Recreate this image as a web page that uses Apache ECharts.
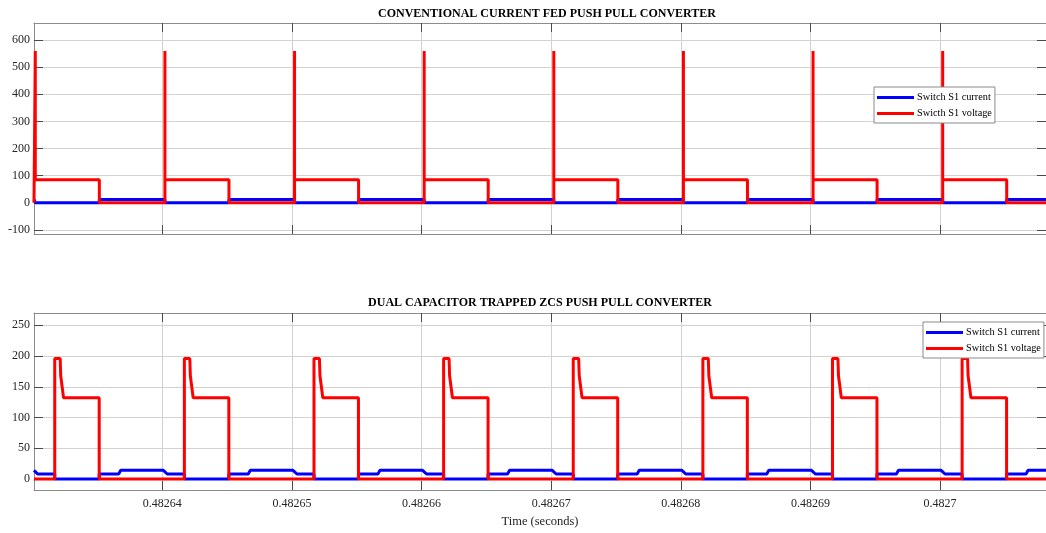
<!DOCTYPE html>
<html><head><meta charset="utf-8">
<script src="https://cdn.jsdelivr.net/npm/echarts@6/dist/echarts.min.js"></script>
<style>html,body{margin:0;padding:0;background:#fff}#c{width:1046px;height:533px}</style>
</head><body><div id="c"></div><script>
// ---- data ----
const timeRange = [0.4826301, 0.48270817];
const timeTicks = [0.48264, 0.48265, 0.48266, 0.48267, 0.48268, 0.48269, 0.4827];
const topYRange = [-115, 663];
const topYTicks = [-100, 0, 100, 200, 300, 400, 500, 600];
const bottomYRange = [-18, 270];
const bottomYTicks = [0, 50, 100, 150, 200, 250];
const topTitle = 'CONVENTIONAL CURRENT FED PUSH PULL CONVERTER';
const bottomTitle = 'DUAL CAPACITOR TRAPPED ZCS PUSH PULL CONVERTER';
const topNames = ['Switch S1 current', 'Swicth S1 voltage'];
const bottomNames = ['Switch S1 current', 'Switch S1 voltage'];
const xName = 'Time (seconds)';

// Conventional converter: switch current [t, A]
const topCurrent = [
  [0.4826301,12],
  [0.4826302,12],[0.4826302,0],[0.48263514,0],[0.48263514,12],
  [0.4826402,12],[0.4826402,0],[0.48264514,0],[0.48264514,12],
  [0.4826502,12],[0.4826502,0],[0.48265514,0],[0.48265514,12],
  [0.4826602,12],[0.4826602,0],[0.48266514,0],[0.48266514,12],
  [0.4826702,12],[0.4826702,0],[0.48267514,0],[0.48267514,12],
  [0.4826802,12],[0.4826802,0],[0.48268514,0],[0.48268514,12],
  [0.4826902,12],[0.4826902,0],[0.48269514,0],[0.48269514,12],
  [0.4827002,12],[0.4827002,0],[0.48270514,0],[0.48270514,12],
  [0.48270817,12]
];
// Conventional converter: switch voltage [t, V]
const topVoltage = [
  [0.4826301,0],
  [0.4826302,0],[0.4826302,560],[0.4826302,85],[0.48263514,85],[0.48263514,0],
  [0.4826402,0],[0.4826402,560],[0.4826402,85],[0.48264514,85],[0.48264514,0],
  [0.4826502,0],[0.4826502,560],[0.4826502,85],[0.48265514,85],[0.48265514,0],
  [0.4826602,0],[0.4826602,560],[0.4826602,85],[0.48266514,85],[0.48266514,0],
  [0.4826702,0],[0.4826702,560],[0.4826702,85],[0.48267514,85],[0.48267514,0],
  [0.4826802,0],[0.4826802,560],[0.4826802,85],[0.48268514,85],[0.48268514,0],
  [0.4826902,0],[0.4826902,560],[0.4826902,85],[0.48269514,85],[0.48269514,0],
  [0.4827002,0],[0.4827002,560],[0.4827002,85],[0.48270514,85],[0.48270514,0],
  [0.48270817,0]
];
// Dual capacitor ZCS converter: switch current [t, A]
const bottomCurrent = [
  [0.4826301,14],[0.48263038,8],[0.4826317,8],[0.4826317,0],[0.48263513,0],[0.48263513,8],[0.48263663,8],[0.48263679,14],
  [0.48264008,14],[0.48264038,8],[0.4826417,8],[0.4826417,0],[0.48264513,0],[0.48264513,8],[0.48264663,8],[0.48264679,14],
  [0.48265008,14],[0.48265038,8],[0.4826517,8],[0.4826517,0],[0.48265513,0],[0.48265513,8],[0.48265663,8],[0.48265679,14],
  [0.48266008,14],[0.48266038,8],[0.4826617,8],[0.4826617,0],[0.48266513,0],[0.48266513,8],[0.48266663,8],[0.48266679,14],
  [0.48267008,14],[0.48267038,8],[0.4826717,8],[0.4826717,0],[0.48267513,0],[0.48267513,8],[0.48267663,8],[0.48267679,14],
  [0.48268008,14],[0.48268038,8],[0.4826817,8],[0.4826817,0],[0.48268513,0],[0.48268513,8],[0.48268663,8],[0.48268679,14],
  [0.48269008,14],[0.48269038,8],[0.4826917,8],[0.4826917,0],[0.48269513,0],[0.48269513,8],[0.48269663,8],[0.48269679,14],
  [0.48270008,14],[0.48270038,8],[0.4827017,8],[0.4827017,0],[0.48270513,0],[0.48270513,8],[0.48270663,8],[0.48270679,14],
  [0.48270817,14]
];
// Dual capacitor ZCS converter: switch voltage [t, V]
const bottomVoltage = [
  [0.4826301,0],
  [0.4826317,0],[0.4826317,196],[0.48263212,196],[0.48263216,168],[0.4826323,168],[0.48263238,132],[0.48263513,132],[0.48263513,0],
  [0.4826417,0],[0.4826417,196],[0.48264212,196],[0.48264216,168],[0.4826423,168],[0.48264238,132],[0.48264513,132],[0.48264513,0],
  [0.4826517,0],[0.4826517,196],[0.48265212,196],[0.48265216,168],[0.4826523,168],[0.48265238,132],[0.48265513,132],[0.48265513,0],
  [0.4826617,0],[0.4826617,196],[0.48266212,196],[0.48266216,168],[0.4826623,168],[0.48266238,132],[0.48266513,132],[0.48266513,0],
  [0.4826717,0],[0.4826717,196],[0.48267212,196],[0.48267216,168],[0.4826723,168],[0.48267238,132],[0.48267513,132],[0.48267513,0],
  [0.4826817,0],[0.4826817,196],[0.48268212,196],[0.48268216,168],[0.4826823,168],[0.48268238,132],[0.48268513,132],[0.48268513,0],
  [0.4826917,0],[0.4826917,196],[0.48269212,196],[0.48269216,168],[0.4826923,168],[0.48269238,132],[0.48269513,132],[0.48269513,0],
  [0.4827017,0],[0.4827017,196],[0.48270212,196],[0.48270216,168],[0.4827023,168],[0.48270238,132],[0.48270513,132],[0.48270513,0],
  [0.48270817,0]
];

// ---- styling ----
const FONT = 'Liberation Serif';
const axisLineStyle = {show: true, onZero: false, lineStyle: {color: '#8c8c8c', width: 1}};
const gridLineStyle = {lineStyle: {color: '#d2d2d2', width: 1}};
const tickStyle = (vals) => ({show: true, inside: true, length: 9, customValues: vals, lineStyle: {color: '#4a4a4a', width: 1}});
const xFmt = v => String(parseFloat(Number(v).toFixed(5)));

function xAxes(gridIndex, showLabels) {
  return [
    {type: 'value', gridIndex, position: 'bottom', min: timeRange[0], max: timeRange[1],
     axisLine: axisLineStyle, axisTick: tickStyle(timeTicks),
     axisLabel: {show: showLabels, customValues: timeTicks, formatter: xFmt, margin: 8,
                 fontFamily: FONT, fontSize: 12, color: '#262626'},
     splitLine: Object.assign({show: true}, gridLineStyle),
     name: showLabels ? xName : '', nameLocation: 'middle', nameGap: 25,
     nameTextStyle: {fontFamily: FONT, fontSize: 12.5, color: '#262626'}},
    {type: 'value', gridIndex, position: 'top', min: timeRange[0], max: timeRange[1],
     axisLine: axisLineStyle, axisTick: tickStyle(timeTicks),
     axisLabel: {show: false}, splitLine: {show: false}}
  ];
}
function yAxes(gridIndex, range, ticks) {
  return [
    {type: 'value', gridIndex, position: 'left', min: range[0], max: range[1],
     axisLine: axisLineStyle, axisTick: tickStyle(ticks),
     axisLabel: {customValues: ticks, margin: 4, fontFamily: FONT, fontSize: 12, color: '#262626'},
     splitLine: Object.assign({show: true}, gridLineStyle)},
    {type: 'value', gridIndex, position: 'right', min: range[0], max: range[1],
     axisLine: axisLineStyle, axisTick: tickStyle(ticks),
     axisLabel: {show: false}, splitLine: {show: false}}
  ];
}
const lineSeries = (name, data, color, xi, yi) => ({
  name, type: 'line', data, xAxisIndex: xi, yAxisIndex: yi,
  showSymbol: false, symbol: 'none', animation: false,
  lineStyle: {color, width: 3}, itemStyle: {color}
});
const legendBase = (left, top, names) => ({
  data: names, left, top, orient: 'vertical', icon: 'rect', itemWidth: 37, itemHeight: 3,
  itemGap: 3, padding: [4, 3, 3, 3], borderColor: '#8a8a8a', borderWidth: 1, borderRadius: 0,
  backgroundColor: '#fff', selectedMode: false,
  textStyle: {fontFamily: FONT, fontSize: 10.3, color: '#000', padding: [0, 0, 0, -2], lineHeight: 13}
});

const chart = echarts.init(document.getElementById('c'), null, {renderer: 'canvas'});
chart.setOption({
  backgroundColor: '#fff',
  animation: false,
  title: [
    {text: topTitle, left: 542, top: 3, textAlign: 'center',
     textStyle: {fontFamily: FONT, fontWeight: 'bold', fontSize: 12, color: '#000'}},
    {text: bottomTitle, left: 535, top: 292, textAlign: 'center',
     textStyle: {fontFamily: FONT, fontWeight: 'bold', fontSize: 12, color: '#000'}}
  ],
  grid: [
    {left: 34, right: -4, top: 23, height: 211},
    {left: 34, right: -4, top: 313, height: 177}
  ],
  xAxis: [...xAxes(0, false), ...xAxes(1, true)],
  yAxis: [...yAxes(0, topYRange, topYTicks), ...yAxes(1, bottomYRange, bottomYTicks)],
  legend: [legendBase(874, 87, topNames), legendBase(923, 322, bottomNames)],
  series: [
    lineSeries(topNames[0], topCurrent, '#0000ff', 0, 0),
    lineSeries(topNames[1], topVoltage, '#ff0000', 0, 0),
    lineSeries(bottomNames[0], bottomCurrent, '#0000ff', 2, 2),
    lineSeries(bottomNames[1], bottomVoltage, '#ff0000', 2, 2)
  ]
});
</script></body></html>
